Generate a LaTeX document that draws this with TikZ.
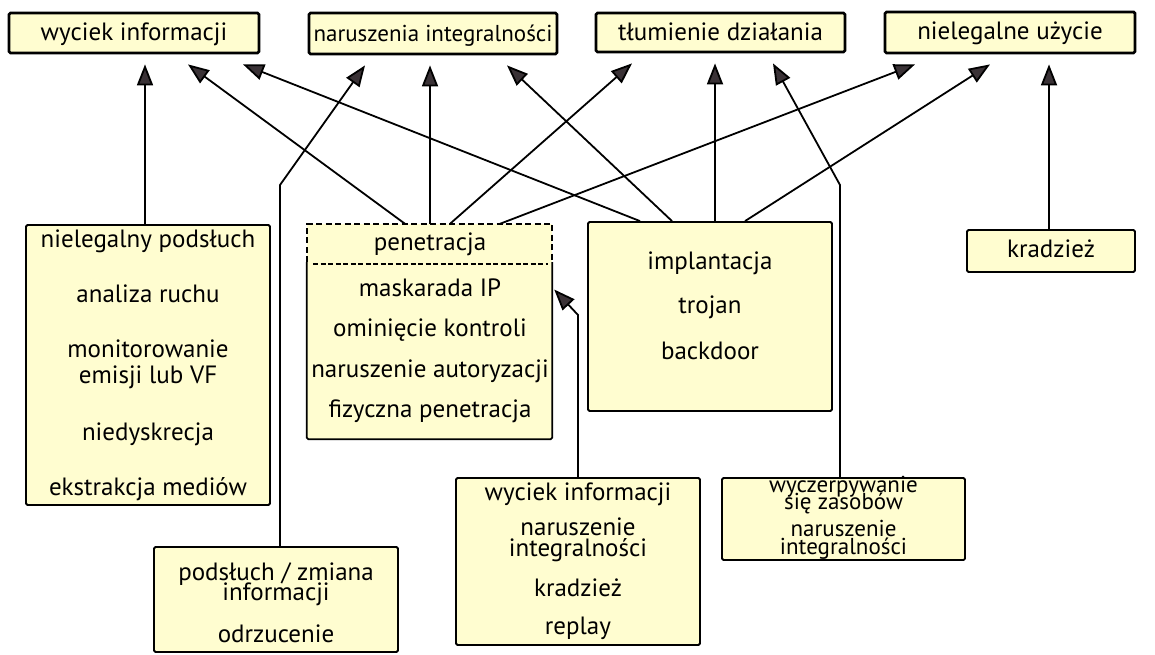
\documentclass[tikz,border=0pt]{standalone}
\usepackage{fontspec}
\setmainfont{PT Sans}
\usetikzlibrary{arrows.meta,calc}
\definecolor{boxfill}{RGB}{255,253,208}
\definecolor{tipfill}{RGB}{58,50,54}
\begin{document}
\begin{tikzpicture}[x=1pt,y=-1pt,
  box/.style={draw=black,line width=1.8pt,fill=boxfill,rounded corners=1.5pt,inner sep=0pt,anchor=center},
  topbox/.style={box,line width=2.8pt},
  txt/.style={inner sep=0pt,yshift=-4pt,text height=0.7em,text depth=0.2em,font=\fontsize{25}{28}\selectfont},
  small/.style={font=\fontsize{23}{26}\selectfont},
  arr/.style={line width=1.8pt,-{Triangle[length=21pt,width=16pt,fill=tipfill]}},
  penb/.style={line width=1.8pt}]
\useasboundingbox (0,0) rectangle (1155,655);

% top boxes
\node[topbox,minimum width=250pt,minimum height=40pt] (t1) at (134,33) {};
\node[topbox,minimum width=248pt,minimum height=41pt] (t2) at (433,33.5) {};
\node[topbox,minimum width=249pt,minimum height=39pt] (t3) at (720.5,32.5) {};
\node[topbox,minimum width=250pt,minimum height=41pt] (t4) at (1010,32.5) {};
\node[txt] (t1l) at (134,34) {wyciek informacji};
\node[txt,small] (t2l) at (433,35) {naruszenia integralności};
\node[txt] (t3l) at (720.5,34) {tłumienie działania};
\node[txt] (t4l) at (1010,33) {nielegalne użycie};

% left box
\node[box,minimum width=244pt,minimum height=280pt] (niel) at (148,365) {};
\node[txt] (n1) at (148,241) {nielegalny podsłuch};
\node[txt] (n2) at (148,296) {analiza ruchu};
\node[txt] (n3) at (148,351) {monitorowanie};
\node[txt] (n4) at (148,377) {emisji lub VF};
\node[txt] (n5) at (148,434) {niedyskrecja};
\node[txt] (n6) at (148,489) {ekstrakcja mediów};

% penetracja
\node[fill=boxfill,inner sep=0pt,minimum width=245pt,minimum height=215pt] (pen) at (429.5,331.5) {};
\coordinate (ps) at (0,262);
\draw[penb,dash pattern=on 6pt off 3.5pt] (pen.west |- ps) -- (pen.north west) -- (pen.north east) -- (pen.east |- ps);
\draw[penb,rounded corners=1.5pt] (pen.west |- ps) -- (pen.south west) -- (pen.south east) -- (pen.east |- ps);
\draw[line width=1.5pt,dash pattern=on 5pt off 2.5pt] (313,264) -- (548,264);
\node[txt] (p0) at (430,244) {penetracja};
\node[txt] (p1) at (430,290) {maskarada IP};
\node[txt] (p2) at (430,330) {ominięcie kontroli};
\node[txt] (p3) at (430,371) {naruszenie autoryzacji};
\node[txt] (p4) at (430,411) {fizyczna penetracja};

% implantacja
\node[box,minimum width=244pt,minimum height=189pt] (imp) at (710,316.5) {};
\node[txt] (i1) at (710,263) {implantacja};
\node[txt] (i2) at (710,307) {trojan};
\node[txt] (i3) at (710,353) {backdoor};

% kradziez
\node[box,minimum width=168pt,minimum height=42pt] (krad) at (1051,251) {};
\node[txt] (k1) at (1051,251) {kradzież};

% bottom boxes
\node[box,minimum width=244pt,minimum height=105pt] (pods) at (276,599.5) {};
\node[txt] (o1) at (276,574) {podsłuch / zmiana};
\node[txt] (o2) at (276,594) {informacji};
\node[txt] (o3) at (276,636) {odrzucenie};

\node[box,minimum width=244pt,minimum height=167pt] (wyb) at (578,561.5) {};
\node[txt] (w1) at (578,494) {wyciek informacji};
\node[txt] (w2) at (578,529) {naruszenie};
\node[txt] (w3) at (578,550) {integralności};
\node[txt] (w4) at (578,590) {kradzież};
\node[txt] (w5) at (578,628) {replay};

\node[box,minimum width=243pt,minimum height=82pt] (wyc) at (843.5,519) {};
\node[txt,small] (z1) at (843.5,486) {wyczerpywanie};
\node[txt,small] (z2) at (843.5,503) {się zasobów};
\node[txt,small] (z3) at (843.5,530) {naruszenie};
\node[txt,small] (z4) at (843.5,548) {integralności};

% connectors
\draw[arr] ([xshift=-3pt]niel.north) -- ([xshift=11pt,yshift=-10pt]t1.south);
\draw[arr] ([xshift=-24.5pt]pen.north) -- ([xshift=54pt,yshift=-10pt]t1.south);
\draw[arr] ([xshift=0.5pt]pen.north) -- ([xshift=-3pt,yshift=-10pt]t2.south);
\draw[arr] ([xshift=20.5pt]pen.north) -- ([xshift=-88.5pt,yshift=-10pt]t3.south);
\draw[arr] ([xshift=70.5pt]pen.north) -- ([xshift=-95pt,yshift=-10pt]t4.south);
\draw[arr] ([xshift=-70pt]imp.north) -- ([xshift=109pt,yshift=-10pt]t1.south);
\draw[arr] ([xshift=-38pt]imp.north) -- ([xshift=74pt,yshift=-10pt]t2.south);
\draw[arr] ([xshift=5pt]imp.north) -- ([xshift=-5.5pt,yshift=-10pt]t3.south);
\draw[arr] ([xshift=35pt]imp.north) -- ([xshift=-20pt,yshift=-10pt]t4.south);
\draw[arr] ([xshift=-2pt]krad.north) -- ([xshift=39pt,yshift=-10pt]t4.south);
\coordinate (b1) at (280,185);
\draw[arr] ([xshift=4pt]pods.north) -- (b1) -- ([xshift=-68pt,yshift=-10pt]t2.south);
\coordinate (b2) at (840,185);
\draw[arr] ([xshift=-3.5pt]wyc.north) -- (b2) -- ([xshift=52.5pt,yshift=-10pt]t3.south);
\coordinate (b3) at (578,315);
\draw[arr] (wyb.north) -- (b3) -- ([xshift=2pt,yshift=42pt]pen.east);
\end{tikzpicture}
\end{document}
